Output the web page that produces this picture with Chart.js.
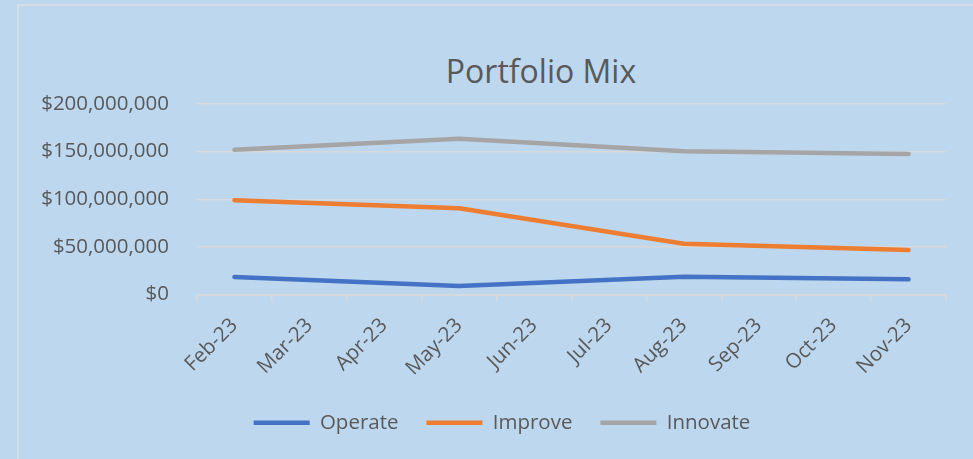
<!DOCTYPE html>
<html>
<head>
<meta charset="utf-8">
<script src="https://cdn.jsdelivr.net/npm/chart.js@4/dist/chart.umd.min.js"></script>
<style>
  html, body { margin: 0; padding: 0; width: 973px; height: 459px; overflow: hidden; background: #BDD7EE; }
  #frame { position: absolute; left: 17px; top: 4px; width: 1100px; height: 600px; border: 2px solid #D6DCE2; }
  #title { position: absolute; left: 341px; width: 400px; top: 55px; text-align: center;
           font-family: 'Open Sans', sans-serif; font-size: 32px; line-height: 32px; color: #595959; }
  #chart { position: absolute; left: 0; top: 0; }
</style>
</head>
<body>
<div id="frame"></div>
<div id="title">Portfolio Mix</div>
<canvas id="chart" width="973" height="459"></canvas>
<script>
// 資料：每季一筆，中間月份留空
const months = ['Feb-23', 'Mar-23', 'Apr-23', 'May-23', 'Jun-23', 'Jul-23', 'Aug-23', 'Sep-23', 'Oct-23', 'Nov-23'];
const operate  = [18300000, null, null, 8800000,   null, null, 18700000,  null, null, 15900000];
const improve  = [99000000, null, null, 90600000,  null, null, 53200000,  null, null, 46800000];
const innovate = [151900000, null, null, 163500000, null, null, 150400000, null, null, 147600000];
const yTicks = [0, 50000000, 100000000, 150000000, 200000000];

const textColor = '#595959';
const gridColor = '#D9D9D9';
const font = { family: "'Open Sans', sans-serif", size: 20.5 };

const mkLine = (label, data, color) => ({
    label: label,
    data: data,
    borderColor: color,
    backgroundColor: color,
    borderWidth: 4.5,
    borderCapStyle: 'round',
    borderJoinStyle: 'round',
    pointRadius: 0,
    pointHoverRadius: 0,
    tension: 0,
    spanGaps: true
});

// 圖例稍微往右移，對齊原圖
const legendShift = {
    id: 'legendShift',
    afterLayout(chart) {
        if (!chart.legend) return;
        chart.legend.left += 12;
        chart.legend.right += 12;
    }
};

new Chart(document.getElementById('chart').getContext('2d'), {
    type: 'line',
    data: {
        labels: months,
        datasets: [
            mkLine('Operate', operate, '#4472C4'),
            mkLine('Improve', improve, '#ED7D31'),
            mkLine('Innovate', innovate, '#A5A5A5')
        ]
    },
    options: {
        responsive: false,
        animation: false,
        layout: { padding: { left: 34, right: 27, top: 104, bottom: 16 } },
        scales: {
            x: {
                offset: true,
                grid: { offset: true, drawOnChartArea: false, drawTicks: true, tickLength: 7, color: gridColor, lineWidth: 1.5 },
                border: { display: true, color: gridColor, width: 1.5 },
                ticks: { color: textColor, font: font, minRotation: 45, maxRotation: 45, padding: 12, autoSkip: false },
                afterFit: (scale) => { scale.height = 90; }
            },
            y: {
                min: 0,
                max: 200000000,
                afterBuildTicks: (scale) => { scale.ticks = yTicks.map(v => ({ value: v })); },
                grid: { drawTicks: false, color: gridColor, lineWidth: 1.5 },
                border: { display: false },
                ticks: {
                    color: textColor,
                    font: font,
                    padding: 28,
                    callback: (v) => '$' + Number(v).toLocaleString('en-US')
                },
                afterFit: (scale) => { scale.width = 197 - 34; }
            }
        },
        plugins: {
            title: { display: false },
            tooltip: { enabled: false },
            legend: {
                position: 'bottom',
                labels: {
                    color: textColor,
                    font: font,
                    usePointStyle: true,
                    pointStyle: 'line',
                    pointStyleWidth: 56,
                    padding: 28
                }
            }
        }
    },
    plugins: [legendShift]
});
</script>
</body>
</html>
